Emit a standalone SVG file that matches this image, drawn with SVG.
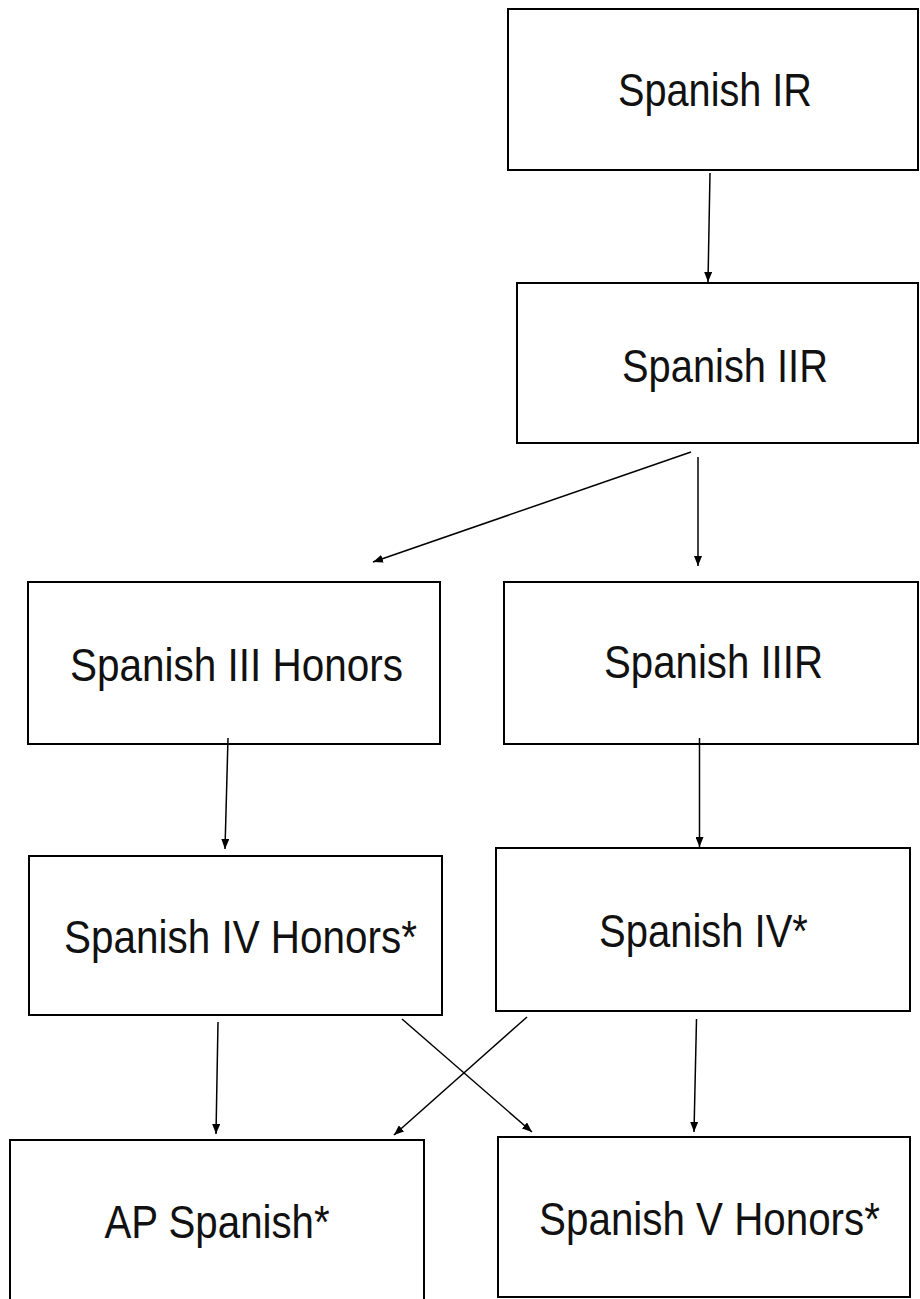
<svg xmlns="http://www.w3.org/2000/svg" width="920" height="1299" viewBox="0 0 920 1299">
<style>
.box{fill:#fff;stroke:#000;stroke-width:2}
.lbl{font-family:"Liberation Sans",Arial,sans-serif;font-size:46px;fill:#111;text-anchor:middle}
.con{stroke:#000;stroke-width:1.5;fill:none;marker-end:url(#ah)}
</style>
<defs>
<marker id="ah" viewBox="0 0 10 8" refX="10" refY="4" markerWidth="10" markerHeight="8" markerUnits="userSpaceOnUse" orient="auto">
<path d="M0,0 L10,4 L0,8 Z" fill="#000"/>
</marker>
</defs>
<rect width="920" height="1299" fill="#fff"/>
<g id="n1"><rect class="box" x="508" y="9" width="410" height="161"/><text class="lbl" transform="translate(715,106) scale(0.862,1)">Spanish IR</text></g>
<g id="n2"><rect class="box" x="517" y="283" width="401" height="160"/><text class="lbl" transform="translate(725,382) scale(0.866,1)">Spanish IIR</text></g>
<g id="n3"><rect class="box" x="28" y="582" width="412" height="162"/><text class="lbl" transform="translate(236.5,681) scale(0.88,1)">Spanish III Honors</text></g>
<g id="n4"><rect class="box" x="504" y="582" width="414" height="162"/><text class="lbl" transform="translate(713.5,678) scale(0.874,1)">Spanish IIIR</text></g>
<g id="n5"><rect class="box" x="29" y="856" width="413" height="159"/><text class="lbl" transform="translate(240.5,953) scale(0.879,1)">Spanish IV Honors*</text></g>
<g id="n6"><rect class="box" x="496" y="848" width="414" height="163"/><text class="lbl" transform="translate(703.5,947) scale(0.869,1)">Spanish IV*</text></g>
<g id="n7"><rect class="box" x="10" y="1140" width="414" height="170"/><text class="lbl" transform="translate(217,1238) scale(0.875,1)">AP Spanish*</text></g>
<g id="n8"><rect class="box" x="498" y="1137" width="412" height="160"/><text class="lbl" transform="translate(709.5,1235) scale(0.877,1)">Spanish V Honors*</text></g>
<g id="connectors">
<line class="con" x1="710" y1="173" x2="708" y2="282"/>
<line class="con" x1="691" y1="452" x2="373" y2="562"/>
<line class="con" x1="698" y1="457" x2="698" y2="566"/>
<line class="con" x1="228" y1="738" x2="225" y2="849"/>
<line class="con" x1="699.5" y1="738" x2="699.5" y2="847"/>
<line class="con" x1="218" y1="1022" x2="216" y2="1134"/>
<line class="con" x1="402" y1="1019" x2="532" y2="1132"/>
<line class="con" x1="527" y1="1017" x2="394" y2="1135"/>
<line class="con" x1="696.5" y1="1019" x2="694" y2="1132"/>
</g>
</svg>
